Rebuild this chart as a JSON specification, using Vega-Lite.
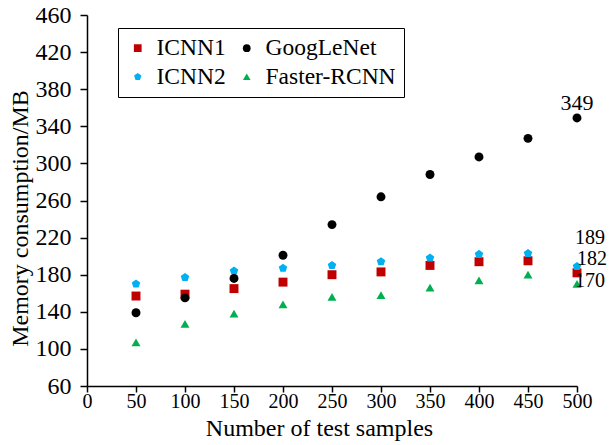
{
  "$schema": "https://vega.github.io/schema/vega-lite/v6.json",
  "autosize": {"type": "none"},
  "width": 490,
  "height": 371,
  "padding": {"left": 87, "top": 15, "right": 32, "bottom": 59},
  "background": "white",
  "config": {
    "view": {"stroke": null},
    "font": "Liberation Serif",
    "axis": {
      "grid": false,
      "domainColor": "#000000",
      "domainWidth": 1.5,
      "tickColor": "#000000",
      "tickWidth": 1.5,
      "tickSize": 7,
      "labelFont": "Liberation Serif",
      "labelColor": "#000000",
      "titleFont": "Liberation Serif",
      "titleFontSize": 24,
      "titleFontWeight": "normal",
      "titleColor": "#000000"
    },
    "legend": {
      "labelFont": "Liberation Serif",
      "labelFontSize": 23.5,
      "labelColor": "#000000"
    }
  },
  "data": {
    "values": [
      {"n": 50, "model": "ICNN1", "mb": 157},
      {"n": 100, "model": "ICNN1", "mb": 159},
      {"n": 150, "model": "ICNN1", "mb": 165},
      {"n": 200, "model": "ICNN1", "mb": 172},
      {"n": 250, "model": "ICNN1", "mb": 180},
      {"n": 300, "model": "ICNN1", "mb": 183},
      {"n": 350, "model": "ICNN1", "mb": 190},
      {"n": 400, "model": "ICNN1", "mb": 194},
      {"n": 450, "model": "ICNN1", "mb": 195},
      {"n": 500, "model": "ICNN1", "mb": 182},
      {"n": 50, "model": "ICNN2", "mb": 170},
      {"n": 100, "model": "ICNN2", "mb": 177},
      {"n": 150, "model": "ICNN2", "mb": 184},
      {"n": 200, "model": "ICNN2", "mb": 187},
      {"n": 250, "model": "ICNN2", "mb": 190},
      {"n": 300, "model": "ICNN2", "mb": 194},
      {"n": 350, "model": "ICNN2", "mb": 198},
      {"n": 400, "model": "ICNN2", "mb": 202},
      {"n": 450, "model": "ICNN2", "mb": 203},
      {"n": 500, "model": "ICNN2", "mb": 189},
      {"n": 50, "model": "GoogLeNet", "mb": 139},
      {"n": 100, "model": "GoogLeNet", "mb": 155},
      {"n": 150, "model": "GoogLeNet", "mb": 176},
      {"n": 200, "model": "GoogLeNet", "mb": 201},
      {"n": 250, "model": "GoogLeNet", "mb": 234},
      {"n": 300, "model": "GoogLeNet", "mb": 264},
      {"n": 350, "model": "GoogLeNet", "mb": 288},
      {"n": 400, "model": "GoogLeNet", "mb": 307},
      {"n": 450, "model": "GoogLeNet", "mb": 327},
      {"n": 500, "model": "GoogLeNet", "mb": 349},
      {"n": 50, "model": "Faster-RCNN", "mb": 107},
      {"n": 100, "model": "Faster-RCNN", "mb": 127},
      {"n": 150, "model": "Faster-RCNN", "mb": 138},
      {"n": 200, "model": "Faster-RCNN", "mb": 148},
      {"n": 250, "model": "Faster-RCNN", "mb": 156},
      {"n": 300, "model": "Faster-RCNN", "mb": 158},
      {"n": 350, "model": "Faster-RCNN", "mb": 166},
      {"n": 400, "model": "Faster-RCNN", "mb": 174},
      {"n": 450, "model": "Faster-RCNN", "mb": 180},
      {"n": 500, "model": "Faster-RCNN", "mb": 170}
    ]
  },
  "encoding": {
    "x": {
      "field": "n",
      "type": "quantitative",
      "scale": {"domain": [0, 500], "nice": false},
      "axis": {
        "values": [0, 50, 100, 150, 200, 250, 300, 350, 400, 450, 500],
        "title": "Number of test samples",
        "tickSize": 6,
        "labelFontSize": 20,
        "labelPadding": -1,
        "labelFlush": false,
        "labelOverlap": false,
        "titleX": 232,
        "titleY": 42,
        "titleBaseline": "middle"
      }
    },
    "y": {
      "field": "mb",
      "type": "quantitative",
      "scale": {"domain": [60, 460], "nice": false, "zero": false},
      "axis": {
        "values": [60, 100, 140, 180, 220, 260, 300, 340, 380, 420, 460],
        "title": "Memory consumption/MB",
        "labelFontSize": 24,
        "labelPadding": 9,
        "labelFlush": false,
        "labelOverlap": false,
        "titleX": -67,
        "titleY": 203,
        "titleBaseline": "middle"
      }
    }
  },
  "layer": [
    {
      "mark": {"type": "point", "filled": true, "opacity": 1, "size": 80},
      "encoding": {
        "color": {
          "field": "model",
          "type": "nominal",
          "scale": {
            "domain": ["ICNN1", "GoogLeNet", "ICNN2", "Faster-RCNN"],
            "range": ["#C00000", "#000000", "#00B0F0", "#00B050"]
          },
          "legend": {
            "title": null,
            "orient": "none",
            "legendX": 31,
            "legendY": 13,
            "direction": "horizontal",
            "columns": 2,
            "strokeColor": "#000000",
            "padding": 8,
            "rowPadding": 4,
            "columnPadding": 9,
            "symbolSize": 60,
            "labelOffset": 7
          }
        },
        "shape": {
          "field": "model",
          "type": "nominal",
          "scale": {
            "domain": ["ICNN1", "GoogLeNet", "ICNN2", "Faster-RCNN"],
            "range": ["square", "circle", "M0,-1L0.951,-0.309L0.588,0.809L-0.588,0.809L-0.951,-0.309Z", "triangle-up"]
          },
          "legend": null
        }
      }
    },
    {
      "transform": [{"filter": "datum.n === 500 && datum.model === 'GoogLeNet'"}],
      "mark": {"type": "text", "fontSize": 22, "font": "Liberation Serif", "color": "#000000", "align": "center", "baseline": "middle", "dy": -15},
      "encoding": {"text": {"field": "mb", "type": "quantitative"}}
    },
    {
      "transform": [{"filter": "datum.n === 500 && datum.model === 'ICNN2'"}],
      "mark": {"type": "text", "fontSize": 20, "font": "Liberation Serif", "color": "#000000", "align": "left", "baseline": "middle", "dx": -2, "dy": -28},
      "encoding": {"text": {"field": "mb", "type": "quantitative"}}
    },
    {
      "transform": [{"filter": "datum.n === 500 && datum.model === 'ICNN1'"}],
      "mark": {"type": "text", "fontSize": 20, "font": "Liberation Serif", "color": "#000000", "align": "left", "baseline": "middle", "dx": 0, "dy": -14},
      "encoding": {"text": {"field": "mb", "type": "quantitative"}}
    },
    {
      "transform": [{"filter": "datum.n === 500 && datum.model === 'Faster-RCNN'"}],
      "mark": {"type": "text", "fontSize": 20, "font": "Liberation Serif", "color": "#000000", "align": "left", "baseline": "middle", "dx": -2, "dy": -3},
      "encoding": {"text": {"field": "mb", "type": "quantitative"}}
    }
  ]
}
